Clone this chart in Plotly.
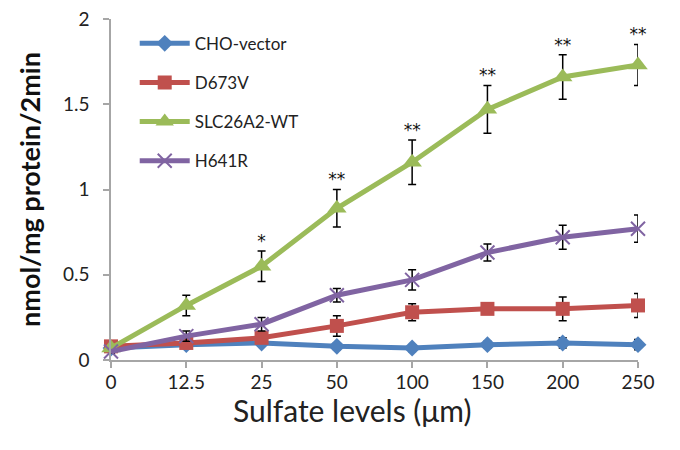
import plotly.graph_objects as go

x_labels = ["0", "12.5", "25", "50", "100", "150", "200", "250"]
y_ticks = [0, 0.5, 1, 1.5, 2]
y_tick_labels = ["0", "0.5", "1", "1.5", "2"]

cho_vector = [0.07, 0.09, 0.10, 0.08, 0.07, 0.09, 0.10, 0.09]
cho_err = [0.02, 0.02, 0.02, 0.02, 0.02, 0.02, 0.03, 0.03]

d673v = [0.08, 0.10, 0.13, 0.20, 0.28, 0.30, 0.30, 0.32]
d673v_err = [0.02, 0.02, 0.03, 0.06, 0.05, 0.03, 0.07, 0.07]

wt = [0.07, 0.32, 0.55, 0.89, 1.16, 1.47, 1.66, 1.73]
wt_err = [0.02, 0.06, 0.09, 0.11, 0.13, 0.14, 0.13, 0.12]

h641r = [0.05, 0.14, 0.21, 0.38, 0.47, 0.63, 0.72, 0.77]
h641r_err = [0.01, 0.03, 0.04, 0.04, 0.06, 0.05, 0.07, 0.08]

stars = ["", "", "*", "**", "**", "**", "**", "**"]

xi = list(range(len(x_labels)))
FONT = "Lato"

series = [
    ("CHO-vector", cho_vector, cho_err, "#4F81BD", dict(symbol="diamond", size=13)),
    ("D673V", d673v, d673v_err, "#C0504D", dict(symbol="square", size=14)),
    ("SLC26A2-WT", wt, wt_err, "#9BBB59", dict(symbol="triangle-up", size=17)),
    ("H641R", h641r, h641r_err, "#8064A2", dict(symbol="x-thin", size=14, line=dict(width=2, color="#8064A2"))),
]

fig = go.Figure()
for i, (name, vals, err, color, mk) in enumerate(series):
    fig.add_trace(go.Scatter(
        x=xi, y=vals, name=name, mode="lines+markers",
        line=dict(color=color, width=5),
        marker=dict(color=color, **mk),
        error_y=dict(type="data", array=err, visible=True, color="black", thickness=1.5, width=4),
        cliponaxis=False, legendgroup=f"g{i}",
    ))

fig.add_trace(go.Scatter(
    x=xi, y=[v + e for v, e in zip(wt, wt_err)], text=stars, mode="text",
    textposition="top center", textfont=dict(family="DejaVu Sans", size=17, color="#111"),
    showlegend=False, cliponaxis=False, hoverinfo="skip",
))

fig.update_layout(
    width=680, height=450,
    margin=dict(l=103, r=50, t=11, b=98),
    paper_bgcolor="white", plot_bgcolor="white",
    font=dict(family=FONT, color="#222"),
    showlegend=True,
    legend=dict(x=0.045, y=0.98, xanchor="left", yanchor="top",
                font=dict(family=FONT, size=17, color="#222"),
                tracegroupgap=14, itemwidth=50, bgcolor="rgba(0,0,0,0)"),
    annotations=[dict(
        text="Sulfate levels (μm)", xref="paper", yref="paper",
        x=0.458, y=-0.148, xanchor="center", yanchor="middle", showarrow=False,
        font=dict(family=FONT, size=30, color="#222"),
    )],
)
fig.update_xaxes(
    range=[0, 7], tickvals=xi, ticktext=x_labels, automargin=False,
    showline=True, linecolor="#a6a6a6", linewidth=1.5,
    ticks="outside", ticklen=6, tickcolor="#a6a6a6", tickwidth=1.5,
    ticklabelstandoff=-2,
    showgrid=False, zeroline=False,
    tickfont=dict(family=FONT, size=19, color="#222"),
)
fig.update_yaxes(
    range=[0, 2], tickvals=y_ticks, ticktext=y_tick_labels, automargin=False,
    showline=True, linecolor="#a6a6a6", linewidth=1.5,
    ticks="outside", ticklen=6, tickcolor="#a6a6a6", tickwidth=1.5,
    ticklabelstandoff=10, ticklabeloverflow="allow",
    showgrid=False, zeroline=False,
    tickfont=dict(family=FONT, size=19, color="#222"),
    title=dict(text="<b>nmol/mg protein/2min</b>", font=dict(family=FONT, size=27, color="#111"), standoff=14),
)

fig.write_html("out.html")
